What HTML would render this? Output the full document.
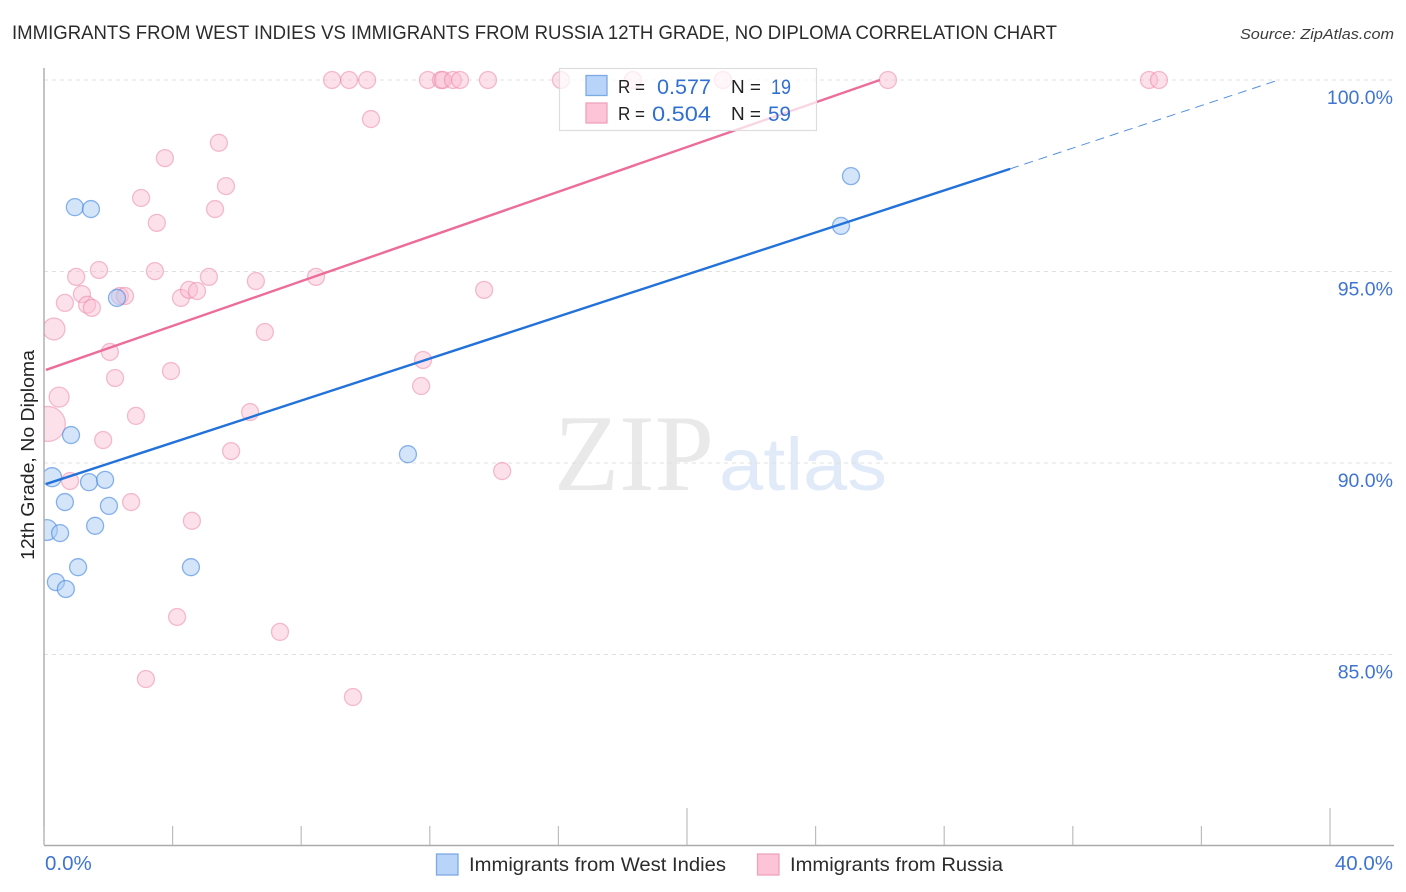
<!DOCTYPE html>
<html lang="en">
<head>
<meta charset="utf-8">
<title>Immigrants from West Indies vs Immigrants from Russia 12th Grade, No Diploma Correlation Chart</title>
<style>
html,body{margin:0;padding:0;background:#fff;width:1406px;height:892px;overflow:hidden}
svg{display:block}
text{font-family:"Liberation Sans",sans-serif}
</style>
</head>
<body>
<svg id="chart" xmlns="http://www.w3.org/2000/svg" width="1406" height="892" viewBox="0 0 1406 892">
  <defs>
    <clipPath id="plot-clip"><rect x="44" y="60" width="1350" height="785"/></clipPath>
  </defs>
  <rect x="0" y="0" width="1406" height="892" fill="#fff"/>
  <text x="12" y="39" font-size="19" fill="#2b2b2b" textLength="1045" lengthAdjust="spacingAndGlyphs">IMMIGRANTS FROM WEST INDIES VS IMMIGRANTS FROM RUSSIA 12TH GRADE, NO DIPLOMA CORRELATION CHART</text>
  <text x="1394" y="39" font-size="15" font-style="italic" fill="#3c3c3c" text-anchor="end" textLength="154" lengthAdjust="spacingAndGlyphs">Source: ZipAtlas.com</text>

  <g>
    <text x="554" y="490" font-size="109" fill="#e9e9e9" textLength="160" lengthAdjust="spacingAndGlyphs" style="font-family:'Liberation Serif',serif">ZIP</text>
    <text x="719" y="490" font-size="74" fill="#e0eaf9" textLength="168" lengthAdjust="spacingAndGlyphs">atlas</text>
  </g>

  <g id="grid"></g>
  <g id="points" clip-path="url(#plot-clip)"></g>
  <g id="trends"></g>
  <g id="axes">
    <line x1="44" y1="68" x2="44" y2="845" stroke="#aaaaaa" stroke-width="1.4"/>
    <line x1="44" y1="845.5" x2="1394" y2="845.5" stroke="#aaaaaa" stroke-width="1.4"/>
  </g>
  <g id="x-ticks"></g>
  <g id="y-labels"></g>
  <g id="x-labels"></g>

  <text transform="translate(34,455) rotate(-90)" font-size="18.5" fill="#222" text-anchor="middle" textLength="210" lengthAdjust="spacingAndGlyphs">12th Grade, No Diploma</text>

  <g>
    <rect x="559.5" y="68.5" width="257" height="62" fill="#fff" fill-opacity="0.72" stroke="#dddddd" stroke-width="1.2"/>
    <rect x="586" y="75.5" width="21" height="20" fill="#b8d4f8" stroke="#7da9e4" stroke-width="1.3"/>
    <rect x="586" y="103" width="21" height="20" fill="#fcc4d6" stroke="#eea3bc" stroke-width="1.3"/>
    <text x="618" y="93" font-size="18" fill="#222" textLength="27" lengthAdjust="spacingAndGlyphs">R =</text>
    <text x="657" y="94" font-size="21.5" fill="#3170d2" textLength="54" lengthAdjust="spacingAndGlyphs">0.577</text>
    <text x="731" y="93" font-size="18" fill="#222" textLength="30" lengthAdjust="spacingAndGlyphs">N =</text>
    <text x="771" y="94" font-size="21.5" fill="#3170d2" textLength="20" lengthAdjust="spacingAndGlyphs">19</text>
    <text x="618" y="120" font-size="18" fill="#222" textLength="27" lengthAdjust="spacingAndGlyphs">R =</text>
    <text x="652" y="121" font-size="21.5" fill="#3170d2" textLength="59" lengthAdjust="spacingAndGlyphs">0.504</text>
    <text x="731" y="120" font-size="18" fill="#222" textLength="30" lengthAdjust="spacingAndGlyphs">N =</text>
    <text x="768" y="121" font-size="21.5" fill="#3170d2" textLength="23" lengthAdjust="spacingAndGlyphs">59</text>
  </g>

  <g>
    <g>
      <rect x="436.5" y="854" width="21.5" height="21" fill="#b8d4f8" stroke="#7da9e4" stroke-width="1.3"/>
      <text x="469" y="871" font-size="19" fill="#2b2b2b" textLength="257" lengthAdjust="spacingAndGlyphs">Immigrants from West Indies</text>
    </g>
    <g>
      <rect x="757.5" y="854" width="21.5" height="21" fill="#fcc4d6" stroke="#eea3bc" stroke-width="1.3"/>
      <text x="790" y="871" font-size="19" fill="#2b2b2b" textLength="213" lengthAdjust="spacingAndGlyphs">Immigrants from Russia</text>
    </g>
  </g>
</svg>
<script>
const xTickValues = [0, 4, 8, 12, 16, 20, 24, 28, 32, 36, 40];
const xLabelValues = [0, 40];
const xLabelText = ['0.0%', '40.0%'];
const yTickValues = [100, 95, 90, 85];
const yTickLabels = ['100.0%', '95.0%', '90.0%', '85.0%'];

const westIndiesX = [0.96, 1.46, 2.27, 25.10, 24.79, 0.84, 0.25, 1.40, 1.90, 0.65, 2.02, 0.09, 0.50, 1.59, 1.06, 4.57, 0.37, 0.68, 11.32];
const westIndiesY = [96.68, 96.63, 94.31, 97.49, 96.19, 90.73, 89.63, 89.50, 89.56, 88.98, 88.88, 88.25, 88.17, 88.36, 87.28, 87.28, 86.89, 86.71, 90.23];
const westIndiesWeight = [1, 1, 1, 1, 1, 1, 1.25, 1, 1, 1, 1, 1.5, 1, 1, 1, 1, 1, 1, 1];

const russiaX = [8.96, 9.49, 10.05, 11.94, 12.35, 12.41, 12.72, 12.94, 13.81, 16.08, 18.32, 21.12, 26.25, 34.37, 34.68,
  10.17, 5.44, 3.76, 3.02, 5.66, 5.32, 3.51, 1.00, 1.71, 3.45, 5.13, 6.59, 8.46, 1.18, 0.65, 1.34, 1.49, 2.36, 2.52, 4.26, 4.51, 4.76, 13.69,
  0.31, 6.87, 2.05, 11.79, 2.21, 3.95, 0.47, 2.86, 6.41, 0.12, 11.73, 1.84, 5.82, 14.25, 0.81, 2.71, 4.60, 4.14, 7.34, 3.17, 9.61];
const russiaY = [100, 100, 100, 100, 100, 100, 100, 100, 100, 100, 100, 100, 100, 100, 100,
  98.98, 98.36, 97.96, 96.92, 97.23, 96.63, 96.27, 94.86, 95.04, 95.01, 94.86, 94.75, 94.86, 94.41, 94.18, 94.13, 94.05, 94.36, 94.36, 94.31, 94.52, 94.49, 94.52,
  93.50, 93.42, 92.90, 92.69, 92.22, 92.40, 91.72, 91.23, 91.33, 91.02, 92.01, 90.60, 90.31, 89.79, 89.53, 88.98, 88.49, 85.98, 85.59, 84.36, 83.89];
const russiaWeight = [1, 1, 1, 1, 1, 1, 1, 1, 1, 1, 1, 1, 1, 1, 1,
  1, 1, 1, 1, 1, 1, 1, 1, 1, 1, 1, 1, 1, 1, 1, 1, 1, 1, 1, 1, 1, 1, 1,
  1.67, 1, 1, 1, 1, 1, 1.38, 1, 1, 4.24, 1, 1, 1, 1, 1, 1, 1, 1, 1, 1, 1];

const westIndiesTrendX = [0.06, 30.05];
const westIndiesTrendY = [89.45, 97.68];
const westIndiesForecastX = [30.05, 38.4];
const westIndiesForecastY = [97.68, 100];
const russiaTrendX = [0.06, 26.0];
const russiaTrendY = [92.43, 100];

const NS = 'http://www.w3.org/2000/svg';
function xScale(v) { return 44 + v * 32.15; }
function yScale(v) { return 80 + (100 - v) * 38.3; }
function rScale(w) { return 8.5 * Math.sqrt(w); }
function make(tag, attrs) {
  const el = document.createElementNS(NS, tag);
  Object.keys(attrs).forEach(function (k) { el.setAttribute(k, attrs[k]); });
  return el;
}

const gridGroup = document.getElementById('grid');
yTickValues.forEach(function (v) {
  const line = make('line', { x1: 44, x2: 1394, y1: yScale(v), y2: yScale(v), stroke: '#e0e0e0', 'stroke-width': 1, 'stroke-dasharray': '4 4' });
  
  
  gridGroup.appendChild(line);
});

const yLabelGroup = document.getElementById('y-labels');
yTickValues.forEach(function (v, i) {
  const t = make('text', { x: 1393, y: yScale(v) + 24, 'font-size': 19.5, fill: '#3f74d1', 'text-anchor': 'end' });
  
  
  t.textContent = yTickLabels[i];
  yLabelGroup.appendChild(t);
});

const xTickGroup = document.getElementById('x-ticks');
xTickValues.forEach(function (v) {
  const major = v === 20 || v === 40;
  const line = make('line', { x1: xScale(v), x2: xScale(v), y1: major ? 808 : 826, y2: 845, stroke: '#bdbdbd', 'stroke-width': 1.2 });
  
  
  xTickGroup.appendChild(line);
});

const xLabelGroup = document.getElementById('x-labels');
xLabelValues.forEach(function (v, i) {
  const t = make('text', { x: v === 0 ? 45 : 1393, y: 870, 'font-size': 20.5, fill: '#3f74d1', 'text-anchor': v === 0 ? 'start' : 'end' });
  
  
  t.textContent = xLabelText[i];
  xLabelGroup.appendChild(t);
});

const pointGroup = document.getElementById('points');
russiaX.forEach(function (v, i) {
  const c = make('circle', { cx: xScale(v), cy: yScale(russiaY[i]), r: rScale(russiaWeight[i]), fill: '#fbbcd0', 'fill-opacity': 0.45, stroke: '#ea7fa5', 'stroke-opacity': 0.5, 'stroke-width': 1.3 });
  
  
  pointGroup.appendChild(c);
});
westIndiesX.forEach(function (v, i) {
  const c = make('circle', { cx: xScale(v), cy: yScale(westIndiesY[i]), r: rScale(westIndiesWeight[i]), fill: '#a9cbf5', 'fill-opacity': 0.5, stroke: '#3f83dd', 'stroke-opacity': 0.6, 'stroke-width': 1.3 });
  
  
  pointGroup.appendChild(c);
});

const trendGroup = document.getElementById('trends');
const forecast = make('line', { x1: xScale(westIndiesForecastX[0]), y1: yScale(westIndiesForecastY[0]), x2: xScale(westIndiesForecastX[1]), y2: yScale(westIndiesForecastY[1]), stroke: '#2b74d8', 'stroke-opacity': 0.8, 'stroke-width': 1, 'stroke-dasharray': '9 6' });


trendGroup.appendChild(forecast);
const trendBlue = make('line', { x1: xScale(westIndiesTrendX[0]), y1: yScale(westIndiesTrendY[0]), x2: xScale(westIndiesTrendX[1]), y2: yScale(westIndiesTrendY[1]), stroke: '#2272d9', 'stroke-width': 2.4 });


trendGroup.appendChild(trendBlue);
const trendPink = make('line', { x1: xScale(russiaTrendX[0]), y1: yScale(russiaTrendY[0]), x2: xScale(russiaTrendX[1]), y2: yScale(russiaTrendY[1]), stroke: '#ec6c9a', 'stroke-width': 2.4 });


trendGroup.appendChild(trendPink);
</script>
</body>
</html>
